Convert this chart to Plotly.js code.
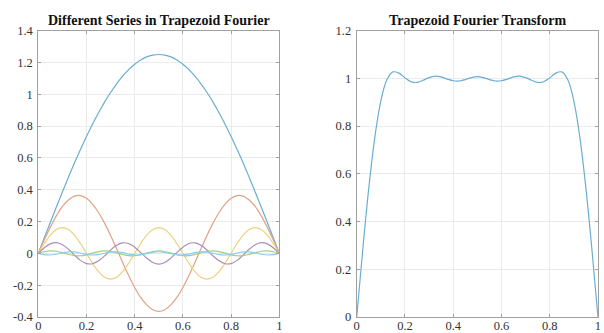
<!DOCTYPE html>
<html>
<head>
<meta charset="utf-8">
<script src="https://cdn.plot.ly/plotly-3.0.1.min.js"></script>
<style>html,body{margin:0;padding:0;background:#fff;}#chart{width:604px;height:333px;}</style>
</head>
<body>
<div id="chart"></div>
<script>
// x samples (0 to 1, step 0.025)
const xs = [0,0.025,0.05,0.075,0.1,0.125,0.15,0.175,0.2,0.225,0.25,0.275,0.3,0.325,0.35,0.375,0.4,0.425,0.45,0.475,0.5,
  0.525,0.55,0.575,0.6,0.625,0.65,0.675,0.7,0.725,0.75,0.775,0.8,0.825,0.85,0.875,0.9,0.925,0.95,0.975,1];

// Harmonic terms
const h1 = [0,0.098,0.196,0.292,0.386,0.478,0.568,0.653,0.735,0.812,0.884,0.951,1.011,1.066,1.114,1.155,1.189,1.216,1.235,1.246,1.25,
  1.246,1.235,1.216,1.189,1.155,1.114,1.066,1.011,0.951,0.884,0.812,0.735,0.653,0.568,0.478,0.386,0.292,0.196,0.098,0];
const h3 = [0,0.085,0.165,0.236,0.295,0.336,0.360,0.363,0.346,0.310,0.257,0.190,0.113,0.029,-0.057,-0.139,-0.214,-0.277,-0.324,-0.354,-0.364,
  -0.354,-0.324,-0.277,-0.214,-0.139,-0.057,0.029,0.113,0.190,0.257,0.310,0.346,0.363,0.360,0.336,0.295,0.236,0.165,0.085,0];
const h5 = [0,0.062,0.115,0.150,0.162,0.150,0.115,0.062,0,-0.062,-0.115,-0.150,-0.162,-0.150,-0.115,-0.062,0,0.062,0.115,0.150,0.162,
  0.150,0.115,0.062,0,-0.062,-0.115,-0.150,-0.162,-0.150,-0.115,-0.062,0,0.062,0.115,0.150,0.162,0.150,0.115,0.062,0];
const h7 = [0,0.035,0.060,0.067,0.054,0.026,-0.011,-0.044,-0.064,-0.065,-0.047,-0.016,0.021,0.051,0.066,0.062,0.039,0.005,-0.030,-0.057,-0.067,
  -0.057,-0.030,0.005,0.039,0.062,0.066,0.051,0.021,-0.016,-0.047,-0.065,-0.064,-0.044,-0.011,0.026,0.054,0.067,0.060,0.035,0];
const h9 = [0,0.0101,0.0153,0.0132,0.0048,-0.0059,-0.0138,-0.0151,-0.0091,0.0012,0.0110,0.0155,0.0125,0.0036,-0.0070,-0.0143,-0.0147,-0.0081,0.0024,0.0118,0.0155,
  0.0118,0.0024,-0.0081,-0.0147,-0.0143,-0.0070,0.0036,0.0125,0.0155,0.0110,0.0012,-0.0091,-0.0151,-0.0138,-0.0059,0.0048,0.0132,0.0153,0.0101,0];
const h11 = [0,-0.0078,-0.0102,-0.0054,0.0032,0.0095,0.0092,0.0024,-0.0061,-0.0103,-0.0073,0.0008,0.0083,0.0100,0.0047,-0.0039,-0.0098,-0.0088,-0.0016,0.0067,0.0103,
  0.0067,-0.0016,-0.0088,-0.0098,-0.0039,0.0047,0.0100,0.0083,0.0008,-0.0073,-0.0103,-0.0061,0.0024,0.0092,0.0095,0.0032,-0.0054,-0.0102,-0.0078,0];

// Sum shown in right panel
const total = [0,0.282,0.540,0.753,0.905,0.994,1.027,1.022,1.002,0.986,0.983,0.992,1.003,1.009,1.006,0.997,0.990,0.989,0.995,1.003,1.007,
  1.003,0.995,0.989,0.990,0.997,1.006,1.009,1.003,0.992,0.983,0.986,1.002,1.022,1.027,0.994,0.905,0.753,0.540,0.282,0];

const xTickVals = [0,0.2,0.4,0.6,0.8,1];
const xTickText = ["0","0.2","0.4","0.6","0.8","1"];
const yLeftVals = [-0.4,-0.2,0,0.2,0.4,0.6,0.8,1,1.2,1.4];
const yLeftText = ["-0.4","-0.2","0","0.2","0.4","0.6","0.8","1","1.2","1.4"];
const yRightVals = [0,0.2,0.4,0.6,0.8,1,1.2];
const yRightText = ["0","0.2","0.4","0.6","0.8","1","1.2"];

const seriesList = [h1,h3,h5,h7,h9,h11];
const colors = ["#6aaed2","#e2a282","#efd07e","#ab8cbb","#a6cc86","#86d0ee"];

const traces = seriesList.map((s,i)=>({
  x: xs, y: s, type:'scatter', mode:'lines', xaxis:'x', yaxis:'y',
  line:{color:colors[i], width:1.2, shape:'spline', smoothing:1}, hoverinfo:'skip'
}));
traces.push({x: xs, y: total, type:'scatter', mode:'lines', xaxis:'x2', yaxis:'y2',
  line:{color:"#6aaed2", width:1.2, shape:'spline', smoothing:1}, hoverinfo:'skip'});

const serif = "Liberation Serif";
const tickFont = {family:serif, size:12.5, color:"#333"};
function ax(extra){
  return Object.assign({
    showline:true, linecolor:"#a0a0a0", linewidth:1, mirror:'ticks',
    ticks:'inside', ticklen:3, tickcolor:"#a0a0a0",
    showgrid:true, gridcolor:"#ebebeb", gridwidth:1, zeroline:false,
    tickfont:{family:serif, size:12.5, color:"#333"}, fixedrange:true
  }, extra);
}

const layout = {
  width:604, height:333,
  margin:{l:0,r:0,t:0,b:0},
  font:{family:serif},
  paper_bgcolor:"#fff", plot_bgcolor:"#fff",
  showlegend:false,
  xaxis: ax({domain:[0.0634,0.4624], range:[0,1], tickvals:xTickVals, ticktext:xTickText, anchor:'y', ticklabelstandoff:-3}),
  yaxis: ax({domain:[0.048,0.908], range:[-0.4,1.4], tickvals:yLeftVals, ticktext:yLeftText, anchor:'x', ticklabelstandoff:2}),
  xaxis2: ax({domain:[0.5906,0.990], range:[0,1], tickvals:xTickVals, ticktext:xTickText, anchor:'y2', ticklabelstandoff:-3}),
  yaxis2: ax({domain:[0.048,0.908], range:[0,1.2], tickvals:yRightVals, ticktext:yRightText, anchor:'x2', ticklabelstandoff:2}),
  annotations:[
    {text:"<b>Different Series in Trapezoid Fourier</b>", xref:'paper', yref:'paper', x:0.2629, y:1-20.7/333, xanchor:'center', yanchor:'middle', showarrow:false,
     font:{family:serif, size:14, color:"#111"}},
    {text:"<b>Trapezoid Fourier Transform</b>", xref:'paper', yref:'paper', x:0.7903, y:1-20.7/333, xanchor:'center', yanchor:'middle', showarrow:false,
     font:{family:serif, size:14, color:"#111"}}
  ]
};

Plotly.newPlot('chart', traces, layout, {staticPlot:true, displayModeBar:false});
</script>
</body>
</html>
